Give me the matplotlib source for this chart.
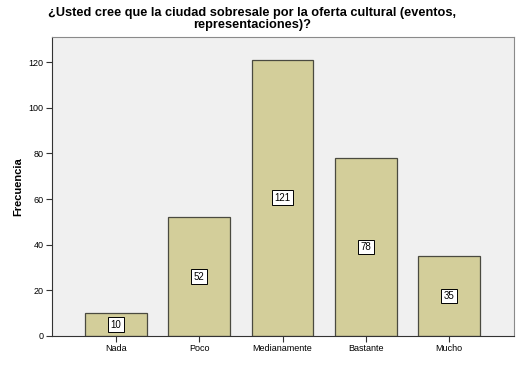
import matplotlib

matplotlib.use("Agg")
import matplotlib.pyplot as plt
import numpy as np

categories = ["Nada", "Poco", "Medianamente", "Bastante", "Mucho"]
counts = [10, 52, 121, 78, 35]
yticks = [0, 20, 40, 60, 80, 100, 120]
title = "¿Usted cree que la ciudad sobresale por la oferta cultural (eventos,\nrepresentaciones)?"

plt.rcParams["font.family"] = ["Liberation Sans", "DejaVu Sans"]

fig = plt.figure(figsize=(5.27, 3.65), dpi=100)
ax = fig.add_axes([0.0987, 0.0795, 0.8763, 0.8191])
ax.set_facecolor("#f0f0f0")

x = np.arange(len(categories))
ax.bar(x, counts, width=0.745, color="#d3ce9a", edgecolor="#4a4a40", linewidth=0.9, zorder=2)
for xi, value in zip(x, counts):
    ax.text(xi, value / 2, str(value), ha="center", va="center", fontsize=7,
            bbox=dict(boxstyle="square,pad=0.25", facecolor="white", edgecolor="black", linewidth=0.7),
            zorder=3)

ax.set_xlim(-0.77, 4.78)
ax.set_ylim(0, 131)
ax.set_xticks(x, categories, fontsize=6.5)
ax.set_yticks(yticks, [str(t) for t in yticks], fontsize=6.5)
ax.tick_params(length=4, width=0.8, color="#333333", pad=2)
for side in ("top", "right"):
    ax.spines[side].set_color("#8a8a8a")
for side in ("left", "bottom"):
    ax.spines[side].set_color("#333333")
ax.set_ylabel("Frecuencia", fontsize=8, fontweight="bold", labelpad=4)
fig.text(0.478, 0.982, title, ha="center", va="top", fontsize=9.2, fontweight="bold", linespacing=1.05)

fig.savefig("out.png", dpi=100, facecolor="white")
